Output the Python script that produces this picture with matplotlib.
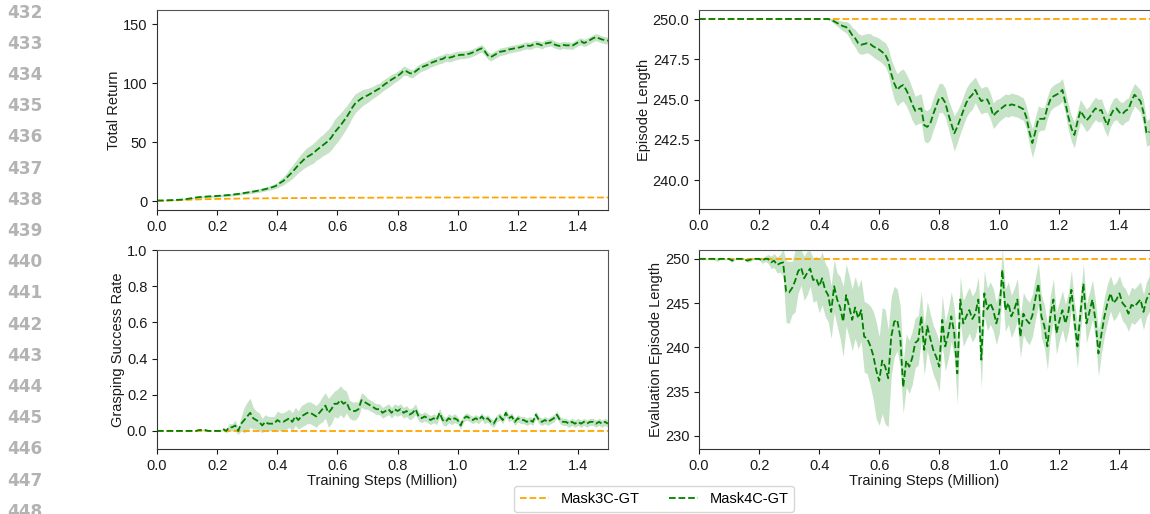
import numpy as np
import matplotlib
matplotlib.use("Agg")
import matplotlib.pyplot as plt

plt.rcParams['font.family'] = ['Liberation Sans', 'DejaVu Sans']

# ---------------- data ----------------
steps = [round(0.01 * i, 2) for i in range(151)]  # million training steps

series_names = ["Mask3C-GT", "Mask4C-GT"]

# Total Return
ret_mask3 = [0.0, 0.1, 0.2, 0.3, 0.4, 0.5, 0.6, 0.7, 0.8, 0.9,
             1.0, 1.1, 1.2, 1.3, 1.4, 1.5, 1.6, 1.6, 1.7, 1.7,
             1.8, 1.8, 1.9, 1.9, 2.0, 2.0, 2.0, 2.1, 2.1, 2.1,
             2.2, 2.2, 2.2, 2.2, 2.3, 2.3, 2.3, 2.3, 2.4, 2.4,
             2.4, 2.4, 2.4, 2.5, 2.5, 2.5, 2.5, 2.5, 2.5, 2.6,
             2.6, 2.6, 2.6, 2.6, 2.6, 2.6, 2.7, 2.7, 2.7, 2.7,
             2.7, 2.7, 2.7, 2.7, 2.8, 2.8, 2.8, 2.8, 2.8, 2.8,
             2.8, 2.8, 2.8, 2.8, 2.9, 2.9, 2.9, 2.9, 2.9, 2.9,
             2.9, 2.9, 2.9, 2.9, 2.9, 2.9, 3.0, 3.0, 3.0, 3.0,
             3.0, 3.0, 3.0, 3.0, 3.0, 3.0, 3.0, 3.0, 3.0, 3.0,
             3.0, 3.0, 3.0, 3.0, 3.0, 3.0, 3.0, 3.0, 3.0, 3.0,
             3.0, 3.0, 3.0, 3.0, 3.0, 3.0, 3.0, 3.0, 3.0, 3.0,
             3.0, 3.0, 3.0, 3.0, 3.0, 3.0, 3.0, 3.0, 3.0, 3.0,
             3.0, 3.0, 3.0, 3.0, 3.0, 3.0, 3.0, 3.0, 3.0, 3.0,
             3.0, 3.0, 3.0, 3.0, 3.0, 3.0, 3.0, 3.0, 3.0, 3.0,
             3.0]
ret_mask4 = [0.5, 0.5, 0.5, 0.6, 0.7, 0.8, 0.9, 1.0, 1.2, 1.5,
             1.8, 2.2, 2.6, 3.0, 3.3, 3.5, 3.7, 3.9, 4.0, 4.1,
             4.3, 4.5, 4.7, 4.9, 5.1, 5.4, 5.7, 6.0, 6.4, 6.8,
             7.2, 7.6, 8.0, 8.5, 9.0, 9.5, 10.1, 10.8, 11.5, 12.3,
             13.5, 15.5, 17.0, 19.5, 22.0, 24.5, 27.5, 30.5, 33.0, 35.5,
             37.5, 39.0, 40.5, 43.0, 45.0, 47.0, 49.0, 51.0, 54.0, 58.0,
             61.0, 64.0, 67.5, 71.0, 75.0, 79.5, 83.0, 85.0, 87.0, 88.5,
             89.5, 91.0, 92.5, 94.0, 95.5, 97.5, 99.5, 101.0, 103.0, 104.5,
             106.0, 108.0, 110.5, 110.0, 108.5, 108.0, 110.0, 112.0, 113.5, 114.5,
             115.5, 117.0, 118.0, 119.0, 120.0, 120.5, 122.0, 121.5, 122.0, 123.0,
             123.5, 124.0, 124.0, 124.5, 125.0, 126.0, 127.0, 128.5, 129.5, 127.0,
             123.5, 122.0, 123.5, 125.0, 126.5, 127.0, 127.5, 128.5, 129.0, 129.5,
             130.0, 130.5, 131.5, 132.0, 131.5, 132.5, 133.5, 133.0, 132.0, 133.5,
             134.0, 134.5, 133.0, 132.0, 131.5, 132.5, 132.0, 132.0, 131.5, 133.0,
             134.5, 135.5, 134.0, 135.0, 136.5, 138.0, 139.0, 138.0, 137.0, 136.5,
             136.0]
ret_mask4_spread = [0.3, 0.3, 0.3, 0.3, 0.3, 0.4, 0.4, 0.4, 0.5, 0.5,
                    0.6, 0.6, 0.7, 0.7, 0.8, 0.8, 0.8, 0.9, 0.9, 0.9,
                    1.0, 1.0, 1.0, 1.0, 1.1, 1.1, 1.1, 1.2, 1.2, 1.2,
                    1.3, 1.3, 1.4, 1.4, 1.5, 1.5, 1.6, 1.7, 1.8, 2.0,
                    2.4, 3.0, 3.5, 4.0, 5.0, 5.5, 6.0, 6.5, 7.0, 7.5,
                    8.0, 8.0, 8.5, 8.5, 9.0, 9.0, 9.5, 10.0, 10.5, 11.0,
                    11.0, 10.5, 10.0, 9.5, 9.0, 8.5, 8.0, 7.5, 7.0, 6.5,
                    6.0, 5.5, 5.0, 5.0, 4.5, 4.5, 4.5, 4.5, 4.5, 4.0,
                    4.0, 4.0, 4.0, 3.5, 3.5, 3.5, 3.5, 3.5, 3.5, 3.5,
                    3.5, 3.5, 3.5, 3.5, 3.5, 3.5, 3.5, 3.5, 3.5, 3.5,
                    3.5, 3.2, 3.2, 3.2, 3.2, 3.2, 3.2, 3.2, 3.2, 3.2,
                    3.2, 3.2, 3.2, 3.2, 3.2, 3.2, 3.2, 3.0, 3.0, 3.0,
                    3.0, 3.0, 3.0, 3.0, 3.0, 3.0, 3.0, 3.0, 3.0, 3.0,
                    3.0, 3.0, 3.0, 3.0, 3.0, 3.0, 3.0, 3.0, 3.0, 3.0,
                    3.0, 3.0, 3.0, 3.0, 3.0, 3.0, 3.0, 3.0, 3.0, 3.0,
                    3.0]

# Episode Length
len_mask3 = [250.0] * 151
len_mask4 = [250.0, 250.0, 250.0, 250.0, 250.0, 250.0, 250.0, 250.0, 250.0, 250.0,
             250.0, 250.0, 250.0, 250.0, 250.0, 250.0, 250.0, 250.0, 250.0, 250.0,
             250.0, 250.0, 250.0, 250.0, 250.0, 250.0, 250.0, 250.0, 250.0, 250.0,
             250.0, 250.0, 250.0, 250.0, 250.0, 250.0, 250.0, 250.0, 250.0, 250.0,
             250.0, 250.0, 250.0, 250.0, 249.95, 249.85, 249.75, 249.65, 249.55, 249.5,
             249.3, 249.0, 248.8, 248.5, 248.4, 248.45, 248.5, 248.45, 248.3, 248.2,
             248.1, 247.95, 247.8, 247.4, 246.6, 246.0, 245.6, 245.8, 245.9, 245.6,
             245.2, 244.7, 244.3, 244.4, 244.45, 243.4, 243.3, 243.5, 244.1, 244.6,
             245.1, 245.1, 244.8, 244.1, 243.5, 242.9, 243.3, 243.8, 244.3, 244.8,
             245.1, 245.3, 245.6, 245.2, 244.9, 245.0, 245.0, 244.6, 244.0, 244.2,
             244.35, 244.5, 244.65, 244.6, 244.7, 244.65, 244.6, 244.5, 244.4, 243.9,
             243.0, 242.3, 243.0, 243.8, 243.8, 243.8, 244.5, 245.0, 245.2, 245.3,
             245.4, 245.6, 244.8, 243.9, 243.2, 242.8, 243.6, 244.3, 244.0, 243.7,
             243.9, 244.2, 244.45, 244.3, 244.35, 243.8, 243.4, 244.0, 244.35, 244.45,
             244.2, 244.1, 244.3, 244.4, 244.9, 245.3, 245.1, 244.9, 244.2, 242.9,
             243.0]
len_mask4_spread = [0.0] * 44 + [
             0.1, 0.15, 0.2, 0.25, 0.3, 0.35,
             0.45, 0.5, 0.55, 0.6, 0.6, 0.6, 0.6, 0.65, 0.65, 0.7,
             0.7, 0.7, 0.75, 0.8, 0.9, 1.0, 1.0, 1.0, 1.0, 1.0,
             1.0, 1.0, 0.9, 0.9, 0.9, 1.0, 1.0, 1.0, 1.0, 1.0,
             0.9, 0.9, 0.9, 0.9, 1.0, 1.1, 1.0, 0.9, 0.9, 0.9,
             0.9, 0.9, 0.8, 0.8, 0.8, 0.8, 0.8, 0.8, 0.8, 0.8,
             0.7, 0.7, 0.7, 0.7, 0.7, 0.7, 0.7, 0.7, 0.7, 0.7,
             0.8, 0.9, 0.9, 0.8, 0.7, 0.7, 0.7, 0.7, 0.7, 0.7,
             0.7, 0.7, 0.7, 0.8, 0.8, 0.8, 0.7, 0.7, 0.7, 0.7,
             0.7, 0.7, 0.7, 0.7, 0.7, 0.7, 0.7, 0.7, 0.7, 0.7,
             0.7, 0.7, 0.7, 0.7, 0.7, 0.7, 0.7, 0.7, 0.8, 0.8,
             0.8]

# Grasping Success Rate
grasp_mask3 = [0.0] * 151
grasp_mask4 = [0.0, 0.0, 0.0, 0.0, 0.0, 0.0, 0.0, 0.0, 0.0, 0.0,
               0.0, 0.0, 0.0, 0.0, 0.005, 0.005, 0.005, 0.0, 0.0, 0.0,
               0.0, 0.0, 0.01, 0.0, 0.02, 0.02, 0.03, 0.0, 0.04, 0.06,
               0.08, 0.10, 0.07, 0.06, 0.05, 0.03, 0.05, 0.04, 0.04, 0.04,
               0.06, 0.05, 0.05, 0.06, 0.07, 0.05, 0.08, 0.06, 0.08, 0.09,
               0.10, 0.10, 0.09, 0.08, 0.10, 0.12, 0.14, 0.10, 0.12, 0.15,
               0.15, 0.17, 0.15, 0.16, 0.12, 0.11, 0.11, 0.12, 0.17, 0.16,
               0.15, 0.14, 0.13, 0.12, 0.12, 0.10, 0.11, 0.12, 0.10, 0.12,
               0.11, 0.12, 0.10, 0.11, 0.09, 0.10, 0.12, 0.08, 0.07, 0.08,
               0.07, 0.06, 0.07, 0.06, 0.10, 0.06, 0.05, 0.07, 0.06, 0.07,
               0.06, 0.03, 0.07, 0.08, 0.07, 0.06, 0.07, 0.06, 0.08, 0.06,
               0.07, 0.05, 0.04, 0.07, 0.08, 0.06, 0.10, 0.07, 0.08, 0.05,
               0.07, 0.06, 0.06, 0.05, 0.06, 0.05, 0.09, 0.06, 0.05, 0.06,
               0.05, 0.06, 0.07, 0.09, 0.06, 0.05, 0.05, 0.04, 0.05, 0.04,
               0.05, 0.04, 0.05, 0.04, 0.05, 0.05, 0.04, 0.05, 0.04, 0.05,
               0.04]
grasp_mask4_spread = [0.0] * 14 + [0.005, 0.005, 0.005, 0.0, 0.0, 0.0,
               0.0, 0.0, 0.01, 0.01, 0.02, 0.02, 0.03, 0.02, 0.04, 0.07,
               0.08, 0.08, 0.06, 0.05, 0.05, 0.04, 0.04, 0.04, 0.04, 0.04,
               0.05, 0.05, 0.05, 0.05, 0.05, 0.05, 0.05, 0.05, 0.06, 0.06,
               0.06, 0.06, 0.06, 0.06, 0.06, 0.07, 0.07, 0.08, 0.08, 0.07,
               0.08, 0.08, 0.08, 0.06, 0.05, 0.05, 0.05, 0.04, 0.04, 0.04,
               0.03, 0.03, 0.03, 0.03, 0.03, 0.03, 0.03, 0.03, 0.03, 0.03,
               0.03, 0.03, 0.03, 0.03, 0.03, 0.03, 0.03, 0.025, 0.025, 0.025,
               0.025, 0.025, 0.025, 0.025, 0.025, 0.025, 0.025, 0.025, 0.025, 0.025,
               0.02, 0.02, 0.02, 0.02, 0.02, 0.02, 0.02, 0.02, 0.02, 0.02,
               0.02, 0.02, 0.02, 0.02, 0.02, 0.02, 0.02, 0.02, 0.02, 0.02,
               0.02, 0.02, 0.02, 0.02, 0.02, 0.02, 0.02, 0.02, 0.02, 0.02,
               0.02, 0.02, 0.02, 0.02, 0.02, 0.02, 0.02, 0.02, 0.02, 0.02,
               0.02, 0.02, 0.02, 0.02, 0.02, 0.02, 0.02, 0.02, 0.02, 0.02,
               0.02]

# Evaluation Episode Length
eval_mask3 = [250.0] * 151
eval_mask4 = [250.0, 250.0, 250.0, 250.0, 250.0, 250.0, 249.9, 250.0, 250.0, 250.0,
              250.0, 249.8, 250.0, 250.0, 250.0, 250.0, 249.8, 249.9, 250.0, 250.0,
              250.0, 249.8, 250.0, 250.0, 249.6, 249.8, 249.3, 249.5, 249.6, 246.3,
              246.2, 246.7, 247.5, 248.6, 249.0, 247.8, 248.4, 248.9, 247.6, 247.8,
              246.9, 247.8, 246.5, 245.9, 244.0, 246.9, 245.4, 244.5, 242.9, 245.9,
              244.6, 243.1, 244.5, 243.3, 244.2, 241.2, 241.0, 240.2, 239.1, 237.4,
              236.2, 238.5, 237.8, 236.5, 241.2, 242.9, 243.1, 241.2, 235.5, 238.5,
              237.8, 238.8, 240.5, 240.8, 243.5, 239.7, 242.4, 241.0, 239.7, 238.9,
              237.8, 243.1, 240.1, 241.5, 243.5, 241.6, 237.05, 245.4, 242.7, 243.5,
              244.2, 243.2, 243.8, 245.4, 238.6, 246.1, 244.3, 245.0, 244.2, 242.7,
              244.0, 248.75, 244.2, 245.0, 243.5, 244.3, 245.4, 241.2, 243.8, 243.1,
              242.7, 243.6, 245.5, 247.2, 243.5, 242.4, 240.1, 243.5, 245.4, 241.6,
              243.0, 244.2, 242.7, 244.0, 246.5, 243.0, 240.1, 243.8, 247.2, 242.7,
              244.0, 245.4, 243.1, 239.3, 241.5, 243.5, 245.0, 246.1, 245.0, 245.4,
              246.1, 245.0, 244.6, 243.8, 244.8, 244.6, 245.0, 245.4, 244.0, 245.4,
              246.1]
eval_mask4_spread = [0.1, 0.1, 0.1, 0.1, 0.1, 0.1, 0.2, 0.1, 0.1, 0.1,
                     0.1, 0.2, 0.1, 0.1, 0.1, 0.1, 0.2, 0.2, 0.1, 0.1,
                     0.1, 0.3, 0.3, 0.5, 0.7, 0.8, 0.9, 1.0, 1.5, 3.5,
                     3.5, 3.0, 3.5, 2.5, 2.0, 2.5, 2.5, 2.0, 2.5, 2.5,
                     3.0, 3.0, 3.0, 3.0, 3.0, 3.0, 3.0, 3.5, 4.0, 3.5,
                     3.5, 3.5, 3.5, 3.5, 3.5, 4.0, 4.0, 4.5, 5.0, 5.5,
                     5.0, 6.0, 6.5, 5.5, 4.5, 4.0, 3.5, 3.5, 3.0, 3.0,
                     3.0, 3.0, 2.8, 2.8, 2.8, 2.8, 2.8, 2.8, 2.8, 2.8,
                     2.8, 2.8, 2.8, 2.8, 2.8, 2.8, 3.5, 2.6, 2.6, 2.6,
                     2.6, 2.6, 2.6, 2.6, 3.2, 2.6, 2.4, 2.4, 2.4, 2.4,
                     2.4, 2.4, 2.4, 2.4, 2.4, 2.4, 2.4, 2.4, 2.4, 2.4,
                     2.4, 2.4, 2.4, 2.4, 2.4, 2.4, 2.6, 2.4, 2.4, 2.4,
                     2.2, 2.2, 2.2, 2.2, 2.2, 2.2, 2.4, 2.2, 2.2, 2.2,
                     2.2, 2.2, 2.2, 2.6, 2.2, 2.2, 2.2, 2.0, 2.0, 2.0,
                     2.0, 2.0, 2.0, 2.0, 2.0, 2.0, 2.0, 2.0, 2.0, 2.0,
                     2.0]

y_labels = ["Total Return", "Episode Length", "Grasping Success Rate",
            "Evaluation Episode Length"]
x_label = "Training Steps (Million)"
line_numbers = [str(n) for n in range(432, 449)]

# ---------------- figure ----------------
W, H = 1150, 514
fig = plt.figure(figsize=(W / 100, H / 100), dpi=100)

def px_axes(x0, y0, x1, y1):
    return fig.add_axes([x0 / W, 1 - y1 / H, (x1 - x0) / W, (y1 - y0) / H])

ax_tl = px_axes(157, 10, 608, 210)
ax_tr = px_axes(699, 10, 1149.5, 209)
ax_bl = px_axes(157, 250, 608, 449)
ax_br = px_axes(699, 250, 1149.5, 449)

FS = 10.5
TXT = '#1a1a1a'
c3 = 'orange'
c4 = 'green'

panels = [
    (ax_tl, ret_mask3, ret_mask4, ret_mask4_spread, y_labels[0], (-7.6, 162), [0, 50, 100, 150], '{:.0f}'),
    (ax_tr, len_mask3, len_mask4, len_mask4_spread, y_labels[1], (238.2, 250.56), [240.0, 242.5, 245.0, 247.5, 250.0], '{:.1f}'),
    (ax_bl, grasp_mask3, grasp_mask4, grasp_mask4_spread, y_labels[2], (-0.1, 1.0), [0.0, 0.2, 0.4, 0.6, 0.8, 1.0], '{:.1f}'),
    (ax_br, eval_mask3, eval_mask4, eval_mask4_spread, y_labels[3], (228.5, 251.0), [230, 235, 240, 245, 250], '{:.0f}'),
]

x = np.array(steps)
handles = None
for ax, m3, m4, sp, ylab, ylim, yt, fmt in panels:
    m4a = np.array(m4)
    spa = np.array(sp)
    l3, = ax.plot(x, m3, color=c3, linestyle='--', linewidth=1.3, label=series_names[0])
    ax.fill_between(x, m4a - spa, m4a + spa, color=c4, alpha=0.22, linewidth=0)
    l4, = ax.plot(x, m4a, color=c4, linestyle='--', linewidth=1.3, label=series_names[1])
    handles = [l3, l4]
    ax.set_xlim(0, 1.5)
    ax.set_ylim(*ylim)
    ax.set_xticks([0.0, 0.2, 0.4, 0.6, 0.8, 1.0, 1.2, 1.4])
    ax.set_xticklabels(['{:.1f}'.format(t) for t in [0.0, 0.2, 0.4, 0.6, 0.8, 1.0, 1.2, 1.4]])
    ax.set_yticks(yt)
    ax.set_yticklabels([fmt.format(t) for t in yt])
    ax.tick_params(labelsize=FS, colors=TXT, length=3.5, width=0.8)
    ax.set_ylabel(ylab, fontsize=FS, color=TXT, labelpad=1)
    for s in ['left', 'bottom']:
        ax.spines[s].set_color('#333333')
    for s in ['top', 'right']:
        ax.spines[s].set_color('#555555')

ax_bl.set_xlabel(x_label, fontsize=FS, color=TXT, labelpad=1)
ax_br.set_xlabel(x_label, fontsize=FS, color=TXT, labelpad=1)

fig.legend(handles, series_names, loc='lower center', bbox_to_anchor=(654 / W, 0.0),
           ncol=2, fontsize=FS, frameon=True, borderaxespad=0.15,
           columnspacing=2.0, handlelength=2.0, edgecolor='#cccccc')

# page line numbers
for i, t in enumerate(line_numbers):
    fig.text(7 / W, 1 - (12.5 + 31.2 * i) / H, t, fontsize=12.2, fontweight='bold',
             color='#b3b3b3', family='DejaVu Sans', ha='left', va='center')

fig.savefig('out.png', dpi=100)
